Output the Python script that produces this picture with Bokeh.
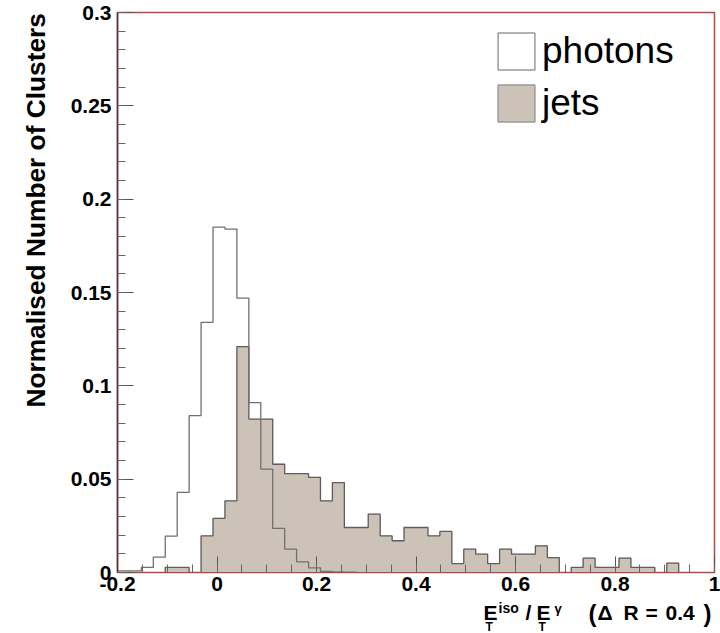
import numpy as np
from bokeh.plotting import figure
from bokeh.layouts import row, column
from bokeh.models import (ColumnDataSource, FixedTicker, Legend, LegendItem, Range1d)
from bokeh.core.properties import value
from bokeh.embed import file_html
from bokeh.resources import INLINE

# ---- data (50 bins from -0.2 to 1.0) ----
x_min, x_max, n_bins = -0.2, 1.0, 50
photons = [0.0009, 0.0009, 0.0027, 0.0082, 0.0195, 0.0429, 0.084, 0.134, 0.185, 0.184,
           0.147, 0.091, 0.0554, 0.0236, 0.0125, 0.0057, 0.0025, 0.0006, 0.0003, 0.0002,
           0, 0, 0, 0, 0, 0, 0, 0, 0, 0,
           0, 0, 0, 0, 0, 0, 0, 0, 0, 0,
           0, 0, 0, 0, 0, 0, 0, 0, 0, 0]
jets = [0, 0, 0, 0, 0.0027, 0.0027, 0, 0.0196, 0.029, 0.0384,
        0.121, 0.0822, 0.0822, 0.058, 0.053, 0.053, 0.051, 0.0384, 0.0482, 0.0241,
        0.0241, 0.0313, 0.0196, 0.017, 0.0241, 0.0241, 0.0196, 0.022, 0.0048, 0.0125,
        0.0098, 0.0048, 0.0125, 0.0098, 0.0098, 0.0143, 0.008, 0, 0.0027, 0.0077,
        0.0027, 0.0027, 0.0077, 0.0027, 0.0027, 0, 0.005, 0, 0, 0]
x_ticks = [-0.2, 0.0, 0.2, 0.4, 0.6, 0.8, 1.0]
x_tick_labels = ["-0.2", "0", "0.2", "0.4", "0.6", "0.8", "1"]
y_ticks = [0.0, 0.05, 0.1, 0.15, 0.2, 0.25, 0.3]
y_tick_labels = ["0", "0.05", "0.1", "0.15", "0.2", "0.25", "0.3"]
series_names = ["photons", "jets"]
y_title = "Normalised Number of Clusters"

edges = np.linspace(x_min, x_max, n_bins + 1)

FONT = "Liberation Sans"
LINE = "#5e5e5e"
JET_FILL = "#ccc2b8"
FRAME = "#b84444"

TOP_H = 601
LEFT_W = 60

# ---------------- main plot ----------------
p = figure(width=720 - LEFT_W, height=TOP_H, output_backend="svg", toolbar_location=None,
           title_location=None,
           x_range=Range1d(x_min, x_max), y_range=Range1d(0, 0.3),
           min_border_left=117 - LEFT_W, min_border_right=6, min_border_top=12,
           min_border_bottom=TOP_H - 572)
p.background_fill_color = "white"
p.border_fill_color = "white"
p.grid.visible = False
p.outline_line_color = FRAME
p.outline_line_width = 1.5


def step_path(vals):
    xs, ys = [], []
    prev = 0
    for i, v in enumerate(vals):
        if v > 0:
            if prev == 0:
                xs.append(edges[i]); ys.append(0)
            xs += [edges[i], edges[i + 1]]
            ys += [v, v]
        else:
            if prev > 0:
                xs += [edges[i], np.nan]; ys += [0, np.nan]
        prev = v
    if prev > 0:
        xs.append(edges[-1]); ys.append(0)
    return xs, ys


# jets filled histogram
jsrc = ColumnDataSource(dict(left=edges[:-1], right=edges[1:], top=jets, bottom=[0] * n_bins))
p.quad(left="left", right="right", top="top", bottom="bottom", source=jsrc,
       fill_color=JET_FILL, line_color=JET_FILL, line_width=0.8)
jx, jy = step_path(jets)
p.line(jx, jy, line_color=LINE, line_width=1.3)

# photons outline
px, py = step_path(photons)
p.line(px, py, line_color="#707070", line_width=1.3)

# legend swatches (NaN geometry: drawn only in the legend)
leg_ph = p.quad(left=[np.nan], right=[np.nan], top=[np.nan], bottom=[np.nan],
                fill_color="white", line_color="#9a9a9a", line_width=1.5)
leg_jt = p.quad(left=[np.nan], right=[np.nan], top=[np.nan], bottom=[np.nan],
                fill_color=JET_FILL, line_color="#9a9a9a", line_width=1.5)
frame_h = 572 - 12
legend = Legend(items=[LegendItem(label=series_names[0], renderers=[leg_ph]),
                       LegendItem(label=series_names[1], renderers=[leg_jt])],
                location=(376, frame_h - 16 - 98), orientation="vertical",
                glyph_width=46, glyph_height=46, label_height=46, spacing=6,
                padding=0, margin=0, label_standoff=3,
                label_text_font=FONT, label_text_font_size="37px", label_text_color="black",
                border_line_color=None, background_fill_alpha=0)
p.add_layout(legend)

# axes
p.xaxis.ticker = FixedTicker(ticks=x_ticks, minor_ticks=list(np.round(np.arange(-0.2, 1.0001, 0.05), 3)))
p.yaxis.ticker = FixedTicker(ticks=y_ticks, minor_ticks=list(np.round(np.arange(0, 0.3001, 0.01), 3)))
p.xaxis.major_label_overrides = {t: s for t, s in zip(x_ticks, x_tick_labels)}
p.yaxis.major_label_overrides = {t: s for t, s in zip(y_ticks, y_tick_labels)}
for ax in (p.xaxis[0], p.yaxis[0]):
    ax.major_tick_in = 16
    ax.major_tick_out = 0
    ax.minor_tick_in = 8
    ax.minor_tick_out = 0
    ax.major_tick_line_color = "#555555"
    ax.minor_tick_line_color = "#666666"
    ax.major_label_text_font = FONT
    ax.major_label_text_font_style = "bold"
    ax.major_label_text_font_size = "21px"
    ax.major_label_text_color = "black"
p.xaxis.major_label_standoff = 4
p.yaxis.major_label_standoff = 6
p.xaxis.axis_line_color = FRAME
p.yaxis.axis_line_color = "#4a3535"
p.yaxis.axis_line_width = 1.5

# ---------------- left strip: y-axis title (top-aligned, ROOT style) ----------------
left = figure(width=LEFT_W, height=TOP_H, output_backend="svg", toolbar_location=None,
              title_location=None,
              x_range=Range1d(0, LEFT_W), y_range=Range1d(0, TOP_H),
              x_axis_location=None, y_axis_location=None, min_border=0)
left.grid.visible = False
left.outline_line_color = None
# anchor calibrated so the text runs from page y ~407 up to ~13
left.text(x=[35], y=[TOP_H - 424], text=[y_title], angle=np.pi / 2,
          text_align="left", text_baseline="alphabetic",
          text_font=value(FONT), text_font_style="bold", text_font_size="26.3px", text_color="black")

# ---------------- bottom strip: x-axis title  E_T^iso / E_T^gamma  (Delta R = 0.4) ----------------
BOT_H = 633 - TOP_H
bottom = figure(width=720, height=BOT_H, output_backend="svg", toolbar_location=None,
                title_location=None,
                x_range=Range1d(0, 720), y_range=Range1d(0, BOT_H),
                x_axis_location=None, y_axis_location=None, min_border=0)
bottom.grid.visible = False
bottom.outline_line_color = None
# (text, left px, baseline px from page top, font size px)
pieces = [
    ("E", 483, 620, 21),
    ("T", 485, 631, 12),
    ("iso", 498, 613, 14),
    ("/", 525, 620, 21),
    ("E", 536, 620, 21),
    ("T", 538, 631, 12),
    ("\u03b3", 554, 613, 13),
    ("(", 588, 622, 24),
    ("\u0394", 597, 620, 21),
    ("R", 623, 620, 21),
    ("=", 645, 620, 21),
    ("0.4", 665, 620, 21),
    (")", 703, 622, 24),
]
for size in sorted(set(pc[3] for pc in pieces)):
    sel = [pc for pc in pieces if pc[3] == size]
    # rendered baseline sits ~0.38 em below the anchor: compensate
    bottom.text(x=[pc[1] for pc in sel], y=[633 - (pc[2] - 0.38 * size) for pc in sel],
                text=[pc[0] for pc in sel],
                text_align="left", text_baseline="alphabetic",
                text_font=value(FONT), text_font_style="bold", text_font_size=f"{size}px",
                text_color="black")

layout = column(row(left, p, spacing=0), bottom, spacing=0)
open("out.html", "w").write(file_html(layout, INLINE))
